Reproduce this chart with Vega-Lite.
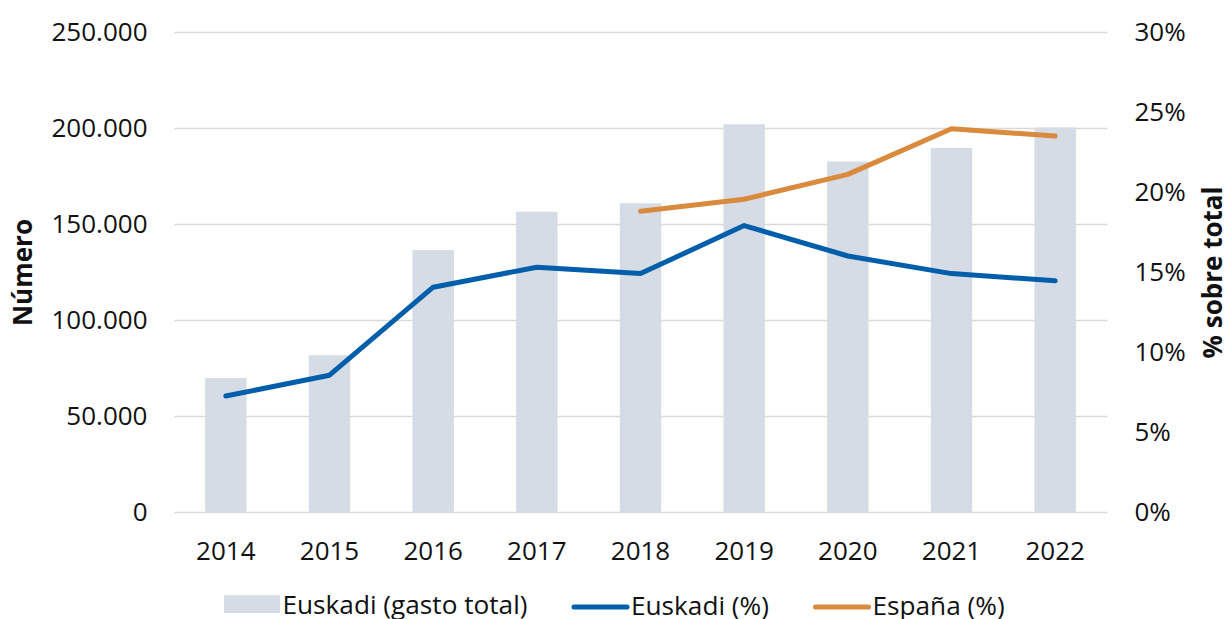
{
  "$schema": "https://vega.github.io/schema/vega-lite/v6.json",
  "autosize": {"type": "none"},
  "padding": {"left": 174, "top": 32, "right": 120, "bottom": 107},
  "width": 933,
  "height": 480,
  "background": "#ffffff",
  "config": {
    "view": {"stroke": null},
    "font": "Open Sans",
    "axis": {
      "labelFont": "Open Sans",
      "labelFontSize": 26,
      "labelColor": "#111111",
      "titleFont": "Open Sans",
      "titleFontSize": 26,
      "titleFontWeight": "bold",
      "titleColor": "#111111",
      "domain": false,
      "ticks": false
    },
    "legend": {
      "labelFont": "Open Sans",
      "labelFontSize": 26.2,
      "labelColor": "#111111",
      "labelLimit": 0
    }
  },
  "datasets": {
    "bars": [
      {"year": "2014", "series": "Euskadi (gasto total)", "value": 69800},
      {"year": "2015", "series": "Euskadi (gasto total)", "value": 81600},
      {"year": "2016", "series": "Euskadi (gasto total)", "value": 136500},
      {"year": "2017", "series": "Euskadi (gasto total)", "value": 156400},
      {"year": "2018", "series": "Euskadi (gasto total)", "value": 160800},
      {"year": "2019", "series": "Euskadi (gasto total)", "value": 201900},
      {"year": "2020", "series": "Euskadi (gasto total)", "value": 182600},
      {"year": "2021", "series": "Euskadi (gasto total)", "value": 189600},
      {"year": "2022", "series": "Euskadi (gasto total)", "value": 200300}
    ],
    "lines": [
      {"year": "2014", "series": "Euskadi (%)", "pct": 7.25},
      {"year": "2015", "series": "Euskadi (%)", "pct": 8.55},
      {"year": "2016", "series": "Euskadi (%)", "pct": 14.05},
      {"year": "2017", "series": "Euskadi (%)", "pct": 15.3},
      {"year": "2018", "series": "Euskadi (%)", "pct": 14.9},
      {"year": "2019", "series": "Euskadi (%)", "pct": 17.9},
      {"year": "2020", "series": "Euskadi (%)", "pct": 16.0},
      {"year": "2021", "series": "Euskadi (%)", "pct": 14.9},
      {"year": "2022", "series": "Euskadi (%)", "pct": 14.45},
      {"year": "2018", "series": "España (%)", "pct": 18.8},
      {"year": "2019", "series": "España (%)", "pct": 19.55},
      {"year": "2020", "series": "España (%)", "pct": 21.1},
      {"year": "2021", "series": "España (%)", "pct": 23.95},
      {"year": "2022", "series": "España (%)", "pct": 23.5}
    ]
  },
  "encoding": {
    "x": {
      "field": "year",
      "type": "ordinal",
      "scale": {"paddingInner": 0.6, "paddingOuter": 0.3},
      "axis": {
        "title": null,
        "labelAngle": 0,
        "labelPadding": 26,
        "grid": false
      }
    }
  },
  "layer": [
    {
      "data": {"name": "bars"},
      "mark": {"type": "bar"},
      "encoding": {
        "y": {
          "field": "value",
          "type": "quantitative",
          "scale": {"domain": [0, 250000], "nice": false},
          "axis": {
            "title": "Número",
            "values": [0, 50000, 100000, 150000, 200000, 250000],
            "format": ",d",
            "labelExpr": "replace(datum.label, ',', '.')",
            "labelPadding": 27,
            "grid": true,
            "gridColor": "#D9D9D9",
            "gridWidth": 1.6,
            "titleAngle": -90,
            "titleBaseline": "middle",
            "titleAlign": "center",
            "titleX": -151,
            "titleY": 240
          }
        },
        "color": {
          "field": "series",
          "type": "nominal",
          "scale": {
            "domain": ["Euskadi (gasto total)", "Euskadi (%)", "España (%)"],
            "range": ["#D6DCE5", "#005EAA", "#D98A3D"]
          },
          "legend": {
            "title": null,
            "orient": "none",
            "legendX": 49,
            "legendY": 545,
            "direction": "horizontal",
            "columns": 3,
            "padding": 0,
            "symbolSize": 2809,
            "symbolStrokeWidth": 5,
            "labelOffset": 1.5,
            "columnPadding": 35.5,
            "labelLimit": 0,
            "encode": {
              "symbols": {
                "update": {
                  "shape": {"signal": "datum.value === 'Euskadi (gasto total)' ? 'M-0.962,-0.33H0.962V0.16H-0.962Z' : 'stroke'"},
                  "fill": {"signal": "datum.value === 'Euskadi (gasto total)' ? '#D6DCE5' : 'transparent'"},
                  "stroke": {"signal": "datum.value === 'Euskadi (%)' ? '#005EAA' : (datum.value === 'España (%)' ? '#D98A3D' : 'transparent')"},
                  "strokeWidth": {"value": 5},
                  "strokeCap": {"value": "round"},
                  "opacity": {"value": 1}
                }
              }
            }
          }
        }
      }
    },
    {
      "data": {"name": "lines"},
      "mark": {"type": "line", "strokeWidth": 5, "strokeCap": "round", "strokeJoin": "round"},
      "encoding": {
        "y": {
          "field": "pct",
          "type": "quantitative",
          "scale": {"domain": [0, 30], "nice": false},
          "axis": {
            "orient": "right",
            "title": "% sobre total",
            "values": [0, 5, 10, 15, 20, 25, 30],
            "labelExpr": "datum.value + '%'",
            "labelPadding": 27,
            "grid": false,
            "titleAngle": -90,
            "titleBaseline": "middle",
            "titleAlign": "center",
            "titleX": 106,
            "titleY": 240
          }
        },
        "color": {"field": "series", "type": "nominal"}
      }
    }
  ],
  "resolve": {"scale": {"y": "independent"}}
}
